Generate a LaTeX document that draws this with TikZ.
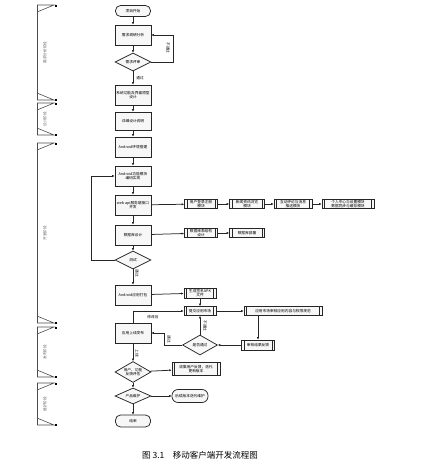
\documentclass[tikz,border=0pt]{standalone}
\usepackage{fontspec}
\newfontfamily\cjk{Noto Sans CJK SC}
\usetikzlibrary{arrows.meta,shapes.geometric,calc}

\begin{document}
\begin{tikzpicture}[x=1pt,y=-1pt,
  font=\cjk\fontsize{3.7}{4.4}\selectfont,
  flow/.style={-{Latex[length=2.4pt,width=2.2pt]}, line width=0.75pt, black!85},
  plain/.style={line width=0.75pt, black!85},
  proc/.style={draw=black!85, line width=0.75pt, fill=black!3, minimum width=36pt, minimum height=20pt, align=center, inner sep=1pt},
  term/.style={draw=black!85, line width=0.75pt, fill=black!3, rounded corners=5pt, minimum width=35pt, minimum height=11pt, align=center, inner sep=1pt},
  cond/.style={diamond, draw=black!85, line width=0.75pt, fill=black!3, aspect=2, minimum width=36pt, minimum height=18pt, inner sep=0pt, align=center},
  sub/.style={draw=black!85, line width=0.75pt, fill=black!3, minimum height=9pt, inner sep=0.8pt, align=center,
    path picture={\draw[line width=0.5pt] ([xshift=2.5pt]path picture bounding box.north west) -- ([xshift=2.5pt]path picture bounding box.south west);
                  \draw[line width=0.5pt] ([xshift=-2.5pt]path picture bounding box.north east) -- ([xshift=-2.5pt]path picture bounding box.south east);}},
  phase/.style={font=\cjk\fontsize{3.7}{4.4}\selectfont, text=black!60, rotate=90},
  lbl/.style={font=\cjk\fontsize{3.7}{4.4}\selectfont, inner sep=0.5pt}
]
\useasboundingbox (0,0) rectangle (430,467);

% phases on the left
\foreach \t/\b/\l [count=\i] in {5/100/需求分析阶段, 103/135/设计阶段, 143/323/开发阶段, 327/377/发布阶段, 383/425/维护阶段} {
  \draw[black!70, line width=0.6pt] (37,\t) -- (37,\b);
  \draw[black!70, line width=0.6pt] (37,\t+7) -- (54,\t) -- (37,\t);
  \draw[black!70, line width=0.6pt] (37,\b-7) -- (54,\b) -- (37,\b);
  \fill (54.5,\t-0.5) rectangle (56.5,\t+1.5);
  \fill (54.5,\b-1.5) rectangle (56.5,\b+0.5);
  \node[phase] (ph\i) at (45,{(\t+\b)/2}) {\l};
}

% main column
\node[term] (start) at (133,11) {项目开始};
\node[proc] (b1) at (133,35) {需求调研分析};
\node[cond] (d1) at (133,62) {需求评审};
\node[proc] (b2) at (133,95) {系统功能及界面原型\\设计};
\node[proc, minimum height=18pt] (b3) at (133,121) {详细设计说明};
\node[proc] (b4) at (133,147) {Android环境搭建};
\node[proc] (b5) at (133,176) {Android功能模块\\编码实现};
\node[proc] (b6) at (133,205) {web api服务端接口\\开发};
\node[proc] (b7) at (133,235) {数据库设计};
\node[cond] (d2) at (133,260) {测试};
\node[proc] (b8) at (133,295) {Android应用打包};
\node[proc] (b9) at (133,333) {应用上线发布};
\node[cond, minimum height=21pt] (d4) at (133,372) {用户、功能\\反馈评估};
\node[cond, minimum height=16pt] (d5) at (133,396) {产品维护};
\node[term, minimum height=12pt] (end) at (133,421) {结束};

% side chains
\foreach \n/\x/\w/\t in {s1/201/33/{用户登录注册\\模块}, s2/247/35/{新闻资讯浏览\\模块}, s3/293/38/{互动评论与消息\\推送模块}, s4/348/52/{个人中心与设置模块\\数据同步与缓存模块}}
  \node[sub, minimum width=\w pt] (\n) at (\x,204) {\t};
\node[sub, minimum width=33pt] (t1) at (201,233) {数据库表结构\\设计};
\node[sub, minimum width=35pt] (t2) at (247,233) {数据库部署};
\node[sub, minimum width=32pt, minimum height=10pt] (p1) at (200,293) {生成签名APK\\文件};
\node[sub, minimum width=32pt] (p2) at (200,311) {提交应用市场};
\node[sub, minimum width=78pt] (p3) at (283,311) {应用市场审核应用内容与权限规范};
\node[sub, minimum width=33pt, minimum height=10pt] (p4) at (258,345) {审核结果反馈};
\node[cond, minimum width=35pt, minimum height=20pt] (d3) at (200,345) {是否通过};
\node[sub, minimum width=48pt, minimum height=13pt] (r1) at (196,369) {收集用户反馈，迭代\\更新版本};
\node[term, minimum width=36pt, minimum height=13pt, rounded corners=6pt] (e2) at (190,396) {后续版本迭代维护};

% main flow
\foreach \a/\b in {start/b1, b1/d1, d1/b2, b2/b3, b3/b4, b4/b5, b5/b6, b6/b7, b7/d2, d2/b8, b9/d4, d4/d5, d5/end}
  \draw[flow] (\a) -- (\b);
\foreach \a/\b in {b6/s1, s1/s2, s2/s3, s3/s4, b7/t1, t1/t2, b8/p1, p1/p2, p2/p3, p4/d3, d4/r1, d5/e2}
  \draw[flow] (\a) -- (\b);
\draw[flow] (p4 |- p3.south) -- (p4.north);
\draw[flow] (d3.north) -- (p2.south);

% loops back
\draw[flow] (d1.east) -- ++(22,0) |- (b1.east);
\draw[flow] (d2.west) -- ++(-23,0) |- (b5.west);
\draw[flow] (d3.west) -- ++(-18,0) |- (b9.east);
\draw[flow] (b9.north) |- (p2.west);

% labels
\node[lbl, rotate=-90] (n1) at (168,48) {不通过};
\node[lbl] (n2) at (140,78) {通过};
\node[lbl, rotate=-90] (n3) at (137,273) {通过};
\node[lbl] (n4) at (153,317) {修改后};
\node[lbl, rotate=-90] (n5) at (205,326) {不通过};
\node[lbl, rotate=-90] (n6) at (169,339) {通过};
\node[lbl, rotate=-90] (n7) at (137,353) {上线};

\node[font=\cjk\fontsize{8.5}{10}\selectfont] (cap) at (200,455) {图 3.1\quad 移动客户端开发流程图};
\end{tikzpicture}
\end{document}
